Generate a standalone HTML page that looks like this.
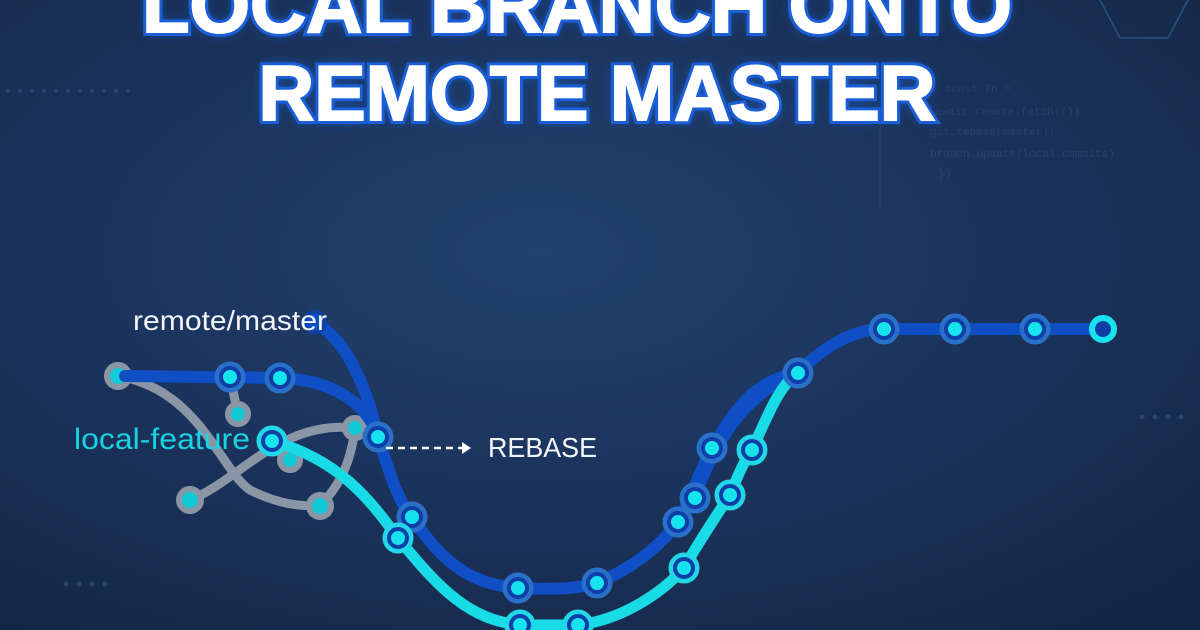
<!DOCTYPE html>
<html><head><meta charset="utf-8"><style>
html,body{margin:0;padding:0;width:1200px;height:630px;overflow:hidden;background:#182d52}
svg{display:block}
</style></head><body>
<svg width="1200" height="630" viewBox="0 0 1200 630" xmlns="http://www.w3.org/2000/svg">
<defs>
<radialGradient id="bg" cx="0.45" cy="0.4" r="0.75">
<stop offset="0" stop-color="#22416f"/><stop offset="0.6" stop-color="#1a3159"/><stop offset="1" stop-color="#142645"/>
</radialGradient>
<filter id="glow" x="-20%" y="-50%" width="140%" height="200%"><feGaussianBlur stdDeviation="6"/></filter>
</defs>
<rect width="1200" height="630" fill="url(#bg)"/>
<g fill="#33507a" font-family="Liberation Mono, monospace" font-size="11" opacity="0.55">
<text x="945" y="92">const fn =</text>
<text x="935" y="115">await remote.fetch(())</text>
<text x="930" y="135">git.rebase(master);</text>
<text x="930" y="157">branch.update(local.commits)</text>
<text x="938" y="177">})</text>
</g>
<line x1="880" y1="120" x2="880" y2="210" stroke="#26436d" stroke-width="1"/>
<path d="M1100 0 L1120 38 L1168 38 L1188 0" fill="none" stroke="#2b5285" stroke-width="1.5"/>
<g fill="#2a4670"><circle cx="8" cy="91" r="2"/><circle cx="20" cy="91" r="2"/><circle cx="32" cy="91" r="2"/><circle cx="44" cy="91" r="2"/><circle cx="56" cy="91" r="2"/><circle cx="68" cy="91" r="2"/><circle cx="80" cy="91" r="2"/><circle cx="92" cy="91" r="2"/><circle cx="104" cy="91" r="2"/><circle cx="116" cy="91" r="2"/><circle cx="128" cy="91" r="2"/>
<circle cx="66" cy="584" r="2.5"/><circle cx="79" cy="584" r="2.5"/><circle cx="92" cy="584" r="2.5"/><circle cx="105" cy="584" r="2.5"/>
<circle cx="1142" cy="417" r="2.5"/><circle cx="1155" cy="417" r="2.5"/><circle cx="1168" cy="417" r="2.5"/><circle cx="1181" cy="417" r="2.5"/></g>
<g font-family="Liberation Sans, sans-serif" font-weight="bold" font-size="78" text-anchor="middle">
<g filter="url(#glow)" fill="#1f6bf0" opacity="0.8">
<text x="577" y="32" textLength="870" lengthAdjust="spacingAndGlyphs">LOCAL BRANCH ONTO</text>
<text x="597" y="120" textLength="677" lengthAdjust="spacingAndGlyphs">REMOTE MASTER</text>
</g>
<g fill="#ffffff" stroke="#1a5fd8" stroke-width="8" paint-order="stroke">
<text x="577" y="32" textLength="870" lengthAdjust="spacingAndGlyphs">LOCAL BRANCH ONTO</text>
<text x="597" y="120" textLength="677" lengthAdjust="spacingAndGlyphs">REMOTE MASTER</text>
</g>
<g fill="#ffffff" stroke="#ffffff" stroke-width="2">
<text x="577" y="32" textLength="870" lengthAdjust="spacingAndGlyphs">LOCAL BRANCH ONTO</text>
<text x="597" y="120" textLength="677" lengthAdjust="spacingAndGlyphs">REMOTE MASTER</text>
</g>
</g>
<g fill="none" stroke="#8a95a6" stroke-width="9" stroke-linecap="round">
<path d="M118 376 C200 390 220 470 250 490 C280 505 300 506 320 506"/>
<path d="M190 500 C240 480 280 420 355 428"/>
<path d="M355 428 C350 470 335 490 320 506"/>
<path d="M230 377 L238 414"/>
</g>
<g fill="#14c9d6" stroke="#8a95a6" stroke-width="6">
<circle cx="118" cy="376" r="11"/><circle cx="238" cy="414" r="10"/><circle cx="190" cy="500" r="11"/><circle cx="290" cy="460" r="10"/><circle cx="320" cy="506" r="11"/><circle cx="355" cy="428" r="10"/>
</g>
<g fill="none" stroke="#0f4ec4" stroke-width="12" stroke-linecap="round">
<path d="M125 376 L280 378 C340 380 370 410 378 437 C390 475 400 505 412 517 C440 560 470 585 518 588 C560 590 580 588 597 583 C640 565 665 540 678 522 C690 500 700 470 712 448 C740 400 760 380 798 373 C830 340 860 329 884 329 L1103 329"/>
<path d="M315 322 C345 340 365 380 378 437"/>
<path d="M695 498 C720 440 740 400 798 373" stroke-width="9"/>
</g>
<path d="M272 441 C340 460 370 500 398 538 C440 590 470 620 520 625 L578 625 C620 620 660 595 684 568 C700 540 720 510 730 495 C740 470 745 460 752 450 C770 410 780 385 798 373" fill="none" stroke="#19dbe6" stroke-width="11" stroke-linecap="round"/>
<g fill="#16e3ee" stroke="#0d3fa6" stroke-width="4">
<g stroke="#2a70c8" stroke-width="9"><circle cx="230" cy="377" r="11"/><circle cx="280" cy="378" r="11"/><circle cx="378" cy="437" r="11"/><circle cx="412" cy="517" r="11"/><circle cx="518" cy="588" r="11"/><circle cx="597" cy="583" r="11"/><circle cx="678" cy="522" r="11"/><circle cx="695" cy="498" r="11"/><circle cx="712" cy="448" r="11"/><circle cx="798" cy="373" r="11"/><circle cx="884" cy="329" r="11"/><circle cx="955" cy="329" r="11"/><circle cx="1035" cy="329" r="11"/></g>
<circle cx="230" cy="377" r="9"/><circle cx="280" cy="378" r="9"/><circle cx="378" cy="437" r="9"/><circle cx="412" cy="517" r="9"/><circle cx="518" cy="588" r="9"/><circle cx="597" cy="583" r="9"/><circle cx="678" cy="522" r="9"/><circle cx="695" cy="498" r="9"/><circle cx="712" cy="448" r="9"/><circle cx="798" cy="373" r="9"/><circle cx="884" cy="329" r="9"/><circle cx="955" cy="329" r="9"/><circle cx="1035" cy="329" r="9"/>
</g>
<circle cx="315" cy="322" r="10" fill="#0f4ec4" stroke="#0d3fa6" stroke-width="4"/>
<circle cx="1103" cy="329" r="11" fill="#0d3fa6" stroke="#16e3ee" stroke-width="6"/>
<g fill="#16e3ee" stroke="#0d3fa6" stroke-width="4">
<g stroke="#22d8e6" stroke-width="9"><circle cx="272" cy="441" r="11"/><circle cx="398" cy="538" r="11"/><circle cx="520" cy="625" r="11"/><circle cx="578" cy="625" r="11"/><circle cx="684" cy="568" r="11"/><circle cx="730" cy="495" r="11"/><circle cx="752" cy="450" r="11"/></g>
<circle cx="272" cy="441" r="9"/><circle cx="398" cy="538" r="9"/><circle cx="520" cy="625" r="9"/><circle cx="578" cy="625" r="9"/><circle cx="684" cy="568" r="9"/><circle cx="730" cy="495" r="9"/><circle cx="752" cy="450" r="9"/>
</g>
<g font-family="Liberation Sans, sans-serif">
<text x="133" y="330" fill="#f2f5fa" font-size="28" textLength="194" lengthAdjust="spacingAndGlyphs">remote/master</text>
<text x="74" y="449" fill="#19d3e3" font-size="30" textLength="176" lengthAdjust="spacingAndGlyphs">local-feature</text>
<text x="488" y="457" fill="#f2f5fa" font-size="28" textLength="109" lengthAdjust="spacingAndGlyphs">REBASE</text>
</g>
<line x1="386" y1="448" x2="462" y2="448" stroke="#ffffff" stroke-width="2.5" stroke-dasharray="7,5"/>
<path d="M462 442 L471 448 L462 454 Z" fill="#ffffff"/>
</svg>
</body></html>
